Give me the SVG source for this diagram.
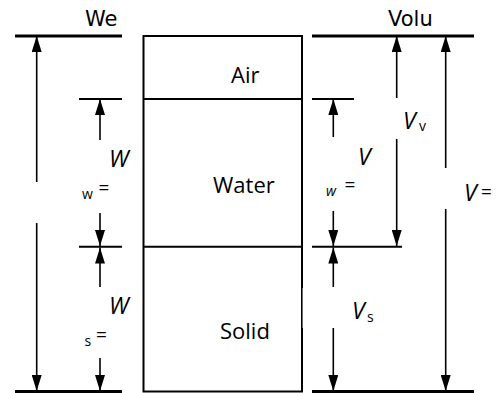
<svg xmlns="http://www.w3.org/2000/svg" width="504" height="393" viewBox="0 0 504 393">
<defs>
<marker id="ah" viewBox="0 0 16 10" refX="16" refY="5" markerWidth="16" markerHeight="10" markerUnits="userSpaceOnUse" orient="auto">
<path d="M0,0 L16,5 L0,10 z" fill="#000"/>
</marker>
<style>
.thick{stroke:#000;stroke-width:3;fill:none}
.thin{stroke:#000;stroke-width:2;fill:none}
.arr{stroke:#000;stroke-width:1.6;fill:none;marker-end:url(#ah)}
.hdr{font-family:"DejaVu Sans",sans-serif;font-size:21px;fill:#000}
.lbl{font-family:"Open Sans",sans-serif;font-size:22px;fill:#000}
.it{font-family:"Open Sans",sans-serif;font-style:italic;font-size:21px;fill:#000}
.itw{font-family:"Open Sans",sans-serif;font-style:italic;font-size:23px;fill:#000}
.sub{font-family:"Open Sans",sans-serif;font-size:14px;fill:#000}
.eq{font-family:"Open Sans",sans-serif;font-size:19px;fill:#000}
</style>
</defs>
<rect width="504" height="393" fill="#fff"/>
<g id="column">
<rect x="143.5" y="36" width="158.5" height="355.5" class="thin"/>
<line x1="143.5" y1="99" x2="302" y2="99" class="thin"/>
<line x1="143.5" y1="246.7" x2="302" y2="246.7" class="thin"/>
<rect x="302.4" y="288" width="2" height="40" fill="#fff"/>
<line x1="301.8" y1="287" x2="301.8" y2="329" stroke="#000" stroke-width="1"/>
</g>
<g id="air"><text x="231" y="83" class="lbl">Air</text></g>
<g id="water"><text x="213" y="193" class="lbl">Water</text></g>
<g id="solid"><text x="220" y="339" class="lbl">Solid</text></g>
<g id="weight-scale">
<text x="85" y="26" class="hdr">We</text>
<line x1="15" y1="36" x2="122" y2="36" class="thick"/>
<line x1="79" y1="99" x2="122" y2="99" class="thin"/>
<line x1="79" y1="246.7" x2="122" y2="246.7" class="thin"/>
<line x1="15" y1="391.5" x2="122" y2="391.5" class="thick"/>
<text x="109" y="167" class="itw">W</text>
<text x="82" y="198.5" class="sub">w</text>
<text x="98.5" y="194" class="eq">=</text>
<text x="109" y="314" class="itw">W</text>
<text x="84.5" y="346" class="sub">s</text>
<text x="96" y="341" class="eq">=</text>
</g>
<g id="volume-scale">
<text x="388" y="26" class="hdr">Volu</text>
<line x1="312" y1="36" x2="474" y2="36" class="thick"/>
<line x1="312" y1="99" x2="354" y2="99" class="thin"/>
<line x1="312" y1="246.7" x2="402" y2="246.7" class="thin"/>
<line x1="312" y1="391.5" x2="474" y2="391.5" class="thick"/>
<text x="403" y="128.5" class="itw">V</text>
<text x="419" y="131" class="sub">v</text>
<text x="358" y="165" class="itw">V</text>
<text x="326" y="196" class="sub" font-style="italic">w</text>
<text x="344.5" y="191" class="eq">=</text>
<text x="464" y="200.5" class="itw">V</text>
<text x="481" y="198" class="eq">=</text>
<text x="352" y="319" class="itw">V</text>
<text x="367" y="322" class="sub">s</text>
</g>
<g id="connectors">
<line x1="36.7" y1="182" x2="36.7" y2="36" class="arr"/>
<line x1="36.7" y1="223" x2="36.7" y2="391" class="arr"/>
<line x1="100" y1="140" x2="100" y2="99" class="arr"/>
<line x1="100" y1="213" x2="100" y2="246" class="arr"/>
<line x1="100" y1="287" x2="100" y2="247.5" class="arr"/>
<line x1="100" y1="358" x2="100" y2="391" class="arr"/>
<line x1="396.7" y1="98" x2="396.7" y2="36" class="arr"/>
<line x1="396.7" y1="139" x2="396.7" y2="246" class="arr"/>
<line x1="333.3" y1="137" x2="333.3" y2="99" class="arr"/>
<line x1="333.3" y1="211" x2="333.3" y2="246" class="arr"/>
<line x1="333.3" y1="287" x2="333.3" y2="247.5" class="arr"/>
<line x1="333.3" y1="328" x2="333.3" y2="391" class="arr"/>
<line x1="445.7" y1="168" x2="445.7" y2="36" class="arr"/>
<line x1="445.7" y1="209" x2="445.7" y2="391" class="arr"/>
</g>
</svg>
